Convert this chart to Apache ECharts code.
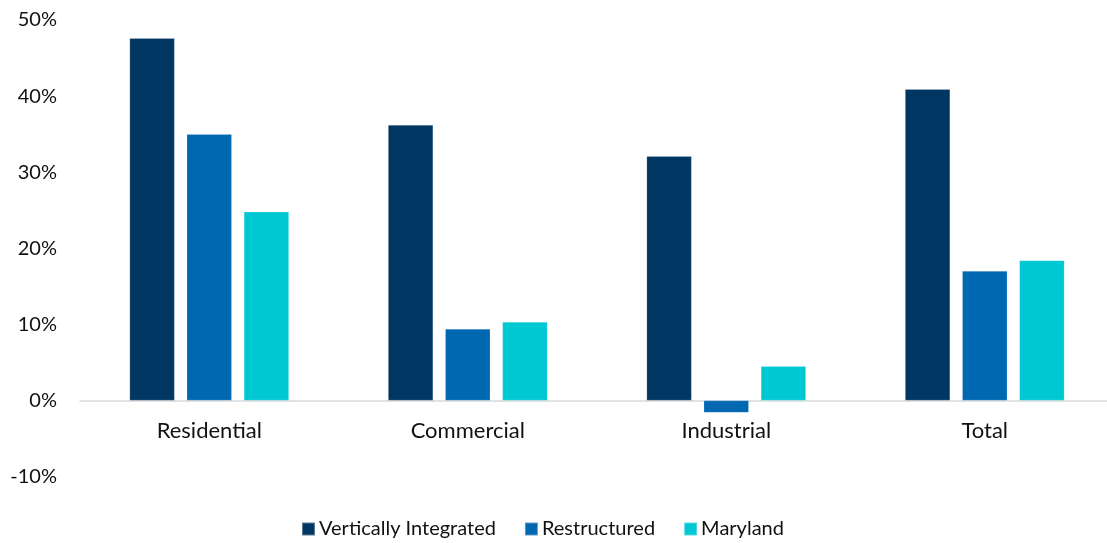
<!DOCTYPE html>
<html>
<head>
<meta charset="utf-8">
<script src="https://cdn.jsdelivr.net/npm/echarts@6/dist/echarts.min.js"></script>
<style>
  html, body { margin: 0; padding: 0; background: #fff; }
  #chart { width: 1107px; height: 543px; }
</style>
</head>
<body>
<div id="chart"></div>
<script>
// categories and series (percent)
var categories = ['Residential', 'Commercial', 'Industrial', 'Total'];
var verticallyIntegrated = [47.6, 36.2, 32.1, 40.9];
var restructured = [35.0, 9.4, -1.6, 17.0];
var maryland = [24.8, 10.3, 4.5, 18.4];
var seriesNames = ['Vertically Integrated', 'Restructured', 'Maryland'];

var font = 'Lato, "Open Sans", sans-serif';

function barSeries(name, data, color) {
  return {
    name: name,
    type: 'bar',
    data: data,
    barWidth: 45,
    barGap: '27%',
    itemStyle: { color: color, borderColor: 'rgba(255,255,255,0.35)', borderWidth: 0.5 }
  };
}

var chart = echarts.init(document.getElementById('chart'));
chart.setOption({
  animation: false,
  textStyle: { fontFamily: font },
  grid: { left: 80, width: 1034, top: 20, bottom: 66.5, containLabel: false, outerBoundsMode: 'none' },
  legend: {
    data: seriesNames,
    left: 296,
    top: 514,
    itemWidth: 13,
    itemHeight: 13,
    itemGap: 28,
    icon: 'rect',
    textStyle: { fontSize: 20, color: '#111', fontFamily: font, padding: [0, 0, 0, -1] }
  },
  xAxis: {
    type: 'category',
    data: categories,
    axisLine: { onZero: true, lineStyle: { color: '#d9d9d9', width: 1.5 } },
    axisTick: { show: false },
    axisLabel: { fontSize: 22, color: '#111', margin: -57, fontFamily: font }
  },
  yAxis: {
    type: 'value',
    min: -10,
    max: 50,
    interval: 10,
    splitLine: { show: false },
    axisLine: { show: false },
    axisTick: { show: false },
    axisLabel: { fontSize: 20, color: '#111', margin: 23, fontFamily: font,
      formatter: function (v) { return v + '%'; } }
  },
  series: [
    barSeries(seriesNames[0], verticallyIntegrated, '#003762'),
    barSeries(seriesNames[1], restructured, '#0068b1'),
    barSeries(seriesNames[2], maryland, '#00c8d3')
  ]
});
</script>
</body>
</html>
